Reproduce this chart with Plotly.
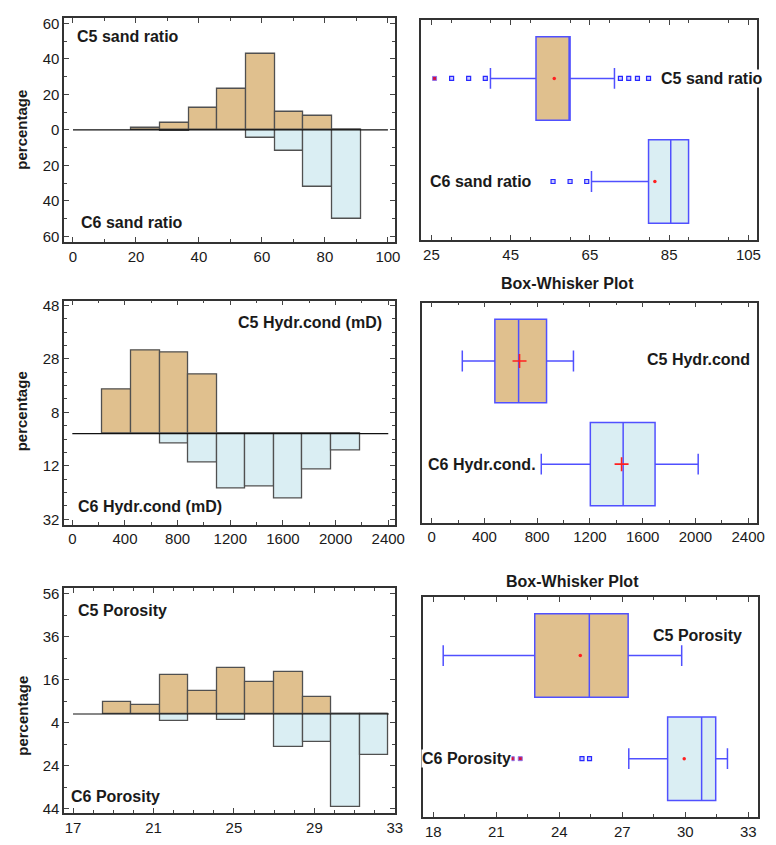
import numpy as np
import plotly.graph_objects as go

W, H = 776, 845

# ---------------- data ----------------
# histogram bin edges and percentages (C6 drawn downward)
sand_edges = [18.6, 27.7, 36.8, 45.9, 55.0, 64.1, 73.2, 82.3, 91.4]
sand_c5 = [0.9, 3.9, 12.3, 22.9, 42.6, 10.1, 8.2, 0.0]
sand_c6 = [0.0, 0.7, 0.0, 0.0, 4.7, 11.9, 32.0, 50.1]

hydr_edges = [230, 447, 664, 881, 1098, 1315, 1532, 1749, 1966, 2183]
hydr_c5 = [16.4, 31.1, 30.2, 22.0, 0, 0, 0, 0, 0]
hydr_c6 = [0, 0, 3.8, 10.7, 20.4, 19.6, 24.2, 13.3, 6.2]

poro_edges = [18.48, 19.9, 21.32, 22.74, 24.16, 25.58, 27.0, 28.42, 29.84, 31.26, 32.68]
poro_c5 = [5.4, 4.2, 18.0, 10.6, 21.4, 14.8, 19.7, 7.7, 0, 0]
poro_c6 = [0, 0, 3.4, 0, 2.9, 0, 15.4, 12.9, 43.4, 19.1]

# box stats: [lower whisker, q1, median, q3, upper whisker, mean]
sand_box_c5 = [39.9, 51.4, 60.0, 60.0, 71.2, 56.0]
sand_box_c6 = [65.4, 79.8, 85.4, 89.9, 89.9, 81.4]
sand_out_c5 = [30.1, 34.4, 38.6, 72.7, 74.8, 77.0, 79.8]
sand_far_c5 = [25.8]
sand_out_c6 = [55.7, 60.0, 64.2]

hydr_box_c5 = [232, 479, 659, 871, 1075, 666]
hydr_box_c6 = [831, 1203, 1452, 1694, 2021, 1440]

poro_box_c5 = [18.47, 22.83, 25.43, 27.28, 29.83, 25.0]
poro_box_c6 = [27.31, 29.16, 30.78, 31.45, 32.01, 29.95]
poro_out_c6 = [25.08, 25.44]
poro_far_c6 = [21.76, 22.14]

# tick labels
sand_yticks = [-60, -40, -20, 0, 20, 40, 60]
hydr_yticks = [-32, -12, 8, 28, 48]
poro_yticks = [-44, -24, -4, 16, 36, 56]

# ---------------- style ----------------
TAN = "#E0C08E"
BLUE_FILL = "#DAEEF3"
BOX_LINE = "#5050FF"
BAR_LINE = "#505050"
FONT = "Liberation Sans, Arial, sans-serif"
TXT = "#1a1a1a"


def px_x(p):
    return p / W


def px_y(p):
    return 1 - p / H


fig = go.Figure()

panels = {
    # name: (x0, x1, y0, y1) in pixels
    "tl": (65, 400, 14, 240),
    "tr": (427, 767, 16, 238),
    "ml": (65, 400, 299, 525),
    "mr": (428, 767, 301, 523),
    "bl": (65, 400, 589, 816),
    "br": (429, 768, 598, 820),
}
axis_ids = {"tl": 1, "tr": 2, "ml": 3, "mr": 4, "bl": 5, "br": 6}


def axis_names(key):
    i = axis_ids[key]
    s = "" if i == 1 else str(i)
    return "x" + s, "y" + s, "xaxis" + s, "yaxis" + s


def base_axis(domain, rng):
    return dict(
        domain=domain, range=rng, showgrid=False, zeroline=False,
        showline=True, linecolor="#333333", linewidth=1.5, mirror="ticks",
        ticks="inside", ticklen=5, tickwidth=1, tickcolor="#444444",
        tickfont=dict(family=FONT, size=15, color=TXT),
    )


def add_hist(key, edges, c5, c6, xr, yr, xdtick, xminor, yticks, yminor, base_ext):
    xa, ya, xk, yk = axis_names(key)
    e = np.array(edges, dtype=float)
    centers = (e[:-1] + e[1:]) / 2
    widths = e[1:] - e[:-1]
    fig.add_trace(go.Bar(x=centers, y=-np.array(c6, dtype=float), width=widths,
                         marker=dict(color=BLUE_FILL, line=dict(color=BAR_LINE, width=1.3)),
                         xaxis=xa, yaxis=ya, showlegend=False))
    fig.add_trace(go.Bar(x=centers, y=np.array(c5, dtype=float), width=widths,
                         marker=dict(color=TAN, line=dict(color=BAR_LINE, width=1.3)),
                         xaxis=xa, yaxis=ya, showlegend=False))
    fig.add_trace(go.Scatter(x=base_ext, y=[0, 0], mode="lines",
                             line=dict(color="#111111", width=1.2),
                             xaxis=xa, yaxis=ya, showlegend=False, hoverinfo="skip"))
    x0, x1, y0, y1 = panels[key]
    xax = base_axis([px_x(x0), px_x(x1)], xr)
    xax.update(tickmode="linear", tick0=0 if key != "bl" else 17, dtick=xdtick,
               minor=dict(ticks="inside", ticklen=3, dtick=xminor, tickcolor="#444444"),
               anchor=ya)
    yax = base_axis([px_y(y1), px_y(y0)], yr)
    yax.update(tickmode="array", tickvals=yticks, ticktext=[str(abs(v)) for v in yticks],
               minor=dict(ticks="inside", ticklen=3, tickcolor="#444444",
                          tickvals=list(np.arange(yticks[0], yticks[-1] + 0.01, yminor))),
               anchor=xa)
    fig.layout[xk] = xax
    fig.layout[yk] = yax


def add_box(key, stats, ypos, fill, mean_style):
    xa, ya, _, _ = axis_names(key)
    lo, q1, med, q3, hi, mean = stats
    fig.add_trace(go.Box(
        y=[ypos], q1=[q1], median=[med], q3=[q3], lowerfence=[lo], upperfence=[hi],
        orientation="h", width=0.81, whiskerwidth=0.25, fillcolor=fill,
        line=dict(color=BOX_LINE, width=1.5), boxpoints=False,
        xaxis=xa, yaxis=ya, showlegend=False))
    if mean_style == "dot":
        fig.add_trace(go.Scatter(x=[mean], y=[ypos], mode="markers",
                                 marker=dict(symbol="circle", size=3.5, color="#FF2020"),
                                 xaxis=xa, yaxis=ya, showlegend=False))
    else:
        fig.add_trace(go.Scatter(x=[mean], y=[ypos], mode="markers",
                                 marker=dict(symbol="cross-thin", size=10,
                                             line=dict(color="#FF2020", width=1.6)),
                                 xaxis=xa, yaxis=ya, showlegend=False))


def add_outliers(key, vals, ypos, far=False):
    xa, ya, _, _ = axis_names(key)
    if far:
        mk = dict(symbol="square", size=4, color="#D01040", line=dict(color="#9070E8", width=1))
    else:
        mk = dict(symbol="square", size=4, color="#C8C8FF", line=dict(color="#2828FF", width=1.2))
    fig.add_trace(go.Scatter(x=vals, y=[ypos] * len(vals), mode="markers", marker=mk,
                             xaxis=xa, yaxis=ya, showlegend=False))


def box_axes(key, xr, xdtick, xminor, tick0):
    xa, ya, xk, yk = axis_names(key)
    x0, x1, y0, y1 = panels[key]
    xax = base_axis([px_x(x0), px_x(x1)], xr)
    xax.update(tickmode="linear", tick0=tick0, dtick=xdtick,
               minor=dict(ticks="inside", ticklen=3, dtick=xminor, tickcolor="#444444"),
               anchor=ya)
    yax = base_axis([px_y(y1), px_y(y0)], [-0.568, 1.568])
    yax.update(showticklabels=False, ticks="", mirror=True, anchor=xa)
    fig.layout[xk] = xax
    fig.layout[yk] = yax


# histograms
add_hist("tl", sand_edges, sand_c5, sand_c6, [-2.8, 102.2], [-63.1, 63.1], 20, 10,
         sand_yticks, 10, [0, 100])
add_hist("ml", hydr_edges, hydr_c5, hydr_c6, [-62, 2450], [-34, 49.8], 400, 200,
         hydr_yticks, 5, [0, 2400])
add_hist("bl", poro_edges, poro_c5, poro_c6, [16.56, 33.0], [-46.2, 58.6], 4, 1,
         poro_yticks, 10, [17, 32.7])

# box plots
add_outliers("tr", sand_out_c5, 1)
add_outliers("tr", sand_far_c5, 1, far=True)
add_outliers("tr", sand_out_c6, 0)
add_box("tr", sand_box_c5, 1, TAN, "dot")
add_box("tr", sand_box_c6, 0, BLUE_FILL, "dot")
box_axes("tr", [22.5, 107.2], 20, 10, 25)

add_box("mr", hydr_box_c5, 1, TAN, "cross")
add_box("mr", hydr_box_c6, 0, BLUE_FILL, "cross")
box_axes("mr", [-70, 2468], 400, 200, 0)

add_outliers("br", poro_out_c6, 0)
add_outliers("br", poro_far_c6, 0, far=True)
add_box("br", poro_box_c5, 1, TAN, "dot")
add_box("br", poro_box_c6, 0, BLUE_FILL, "dot")
box_axes("br", [17.53, 33.47], 3, 1.5, 18)

# ---------------- text ----------------
def label(text, x, y, xanchor="left", size=16, angle=0, bg=None):
    fig.add_annotation(text=text, x=px_x(x), y=px_y(y), xref="paper", yref="paper",
                       xanchor=xanchor, yanchor="middle", showarrow=False, textangle=angle,
                       bgcolor=bg, borderpad=0,
                       font=dict(family=FONT, size=size, color=TXT))


label("<b>C5 sand ratio</b>", 77, 33)
label("<b>C6 sand ratio</b>", 81, 220)
label("<b>C5 Hydr.cond (mD)</b>", 388, 321, xanchor="right")
label("<b>C6 Hydr.cond (mD)</b>", 78, 507)
label("<b>C5 Porosity</b>", 78, 612)
label("<b>C6 Porosity</b>", 71, 799)

label("<b>C5 sand ratio</b>", 669, 75, bg="white")
label("<b>C6 sand ratio</b>", 435, 179)
label("<b>C5 Hydr.cond</b>", 654, 358)
label("<b>C6 Hydr.cond.</b>", 433, 464)
label("<b>C5 Porosity</b>", 661, 637)
label("<b>C6 Porosity</b>", 427, 761, bg="white")

label("<b>Box-Whisker Plot</b>", 575, 282, xanchor="center")
label("<b>Box-Whisker Plot</b>", 580, 582, xanchor="center")

for yc in (127, 411, 718):
    label("<b>percentage</b>", 22, yc, xanchor="center", size=15, angle=-90)

fig.update_layout(
    width=W, height=H, margin=dict(l=0, r=0, t=0, b=0),
    paper_bgcolor="white", plot_bgcolor="white",
    barmode="overlay", bargap=0, showlegend=False,
    font=dict(family=FONT, color=TXT),
)

fig.write_html(
    "out.html",
    config={"displayModeBar": False},
    post_script="document.body.style.margin='0';document.body.style.padding='0';"
                "document.body.style.overflow='hidden';",
)
